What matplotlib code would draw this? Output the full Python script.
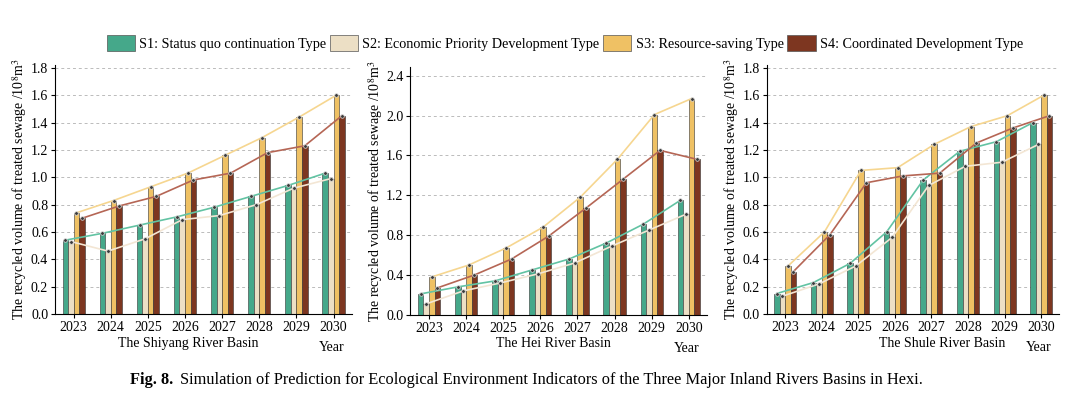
import matplotlib.pyplot as plt
import numpy as np
from matplotlib.patches import Patch

plt.rcParams['font.family'] = ['Liberation Serif', 'DejaVu Serif']
plt.rcParams['mathtext.fontset'] = 'stix'

years = ['2023', '2024', '2025', '2026', '2027', '2028', '2029', '2030']
series_names = ['S1: Status quo continuation Type',
                'S2: Economic Priority Development Type',
                'S3: Resource-saving Type',
                'S4: Coordinated Development Type']

# Shiyang River Basin
shiyang_s1 = [0.54, 0.59, 0.65, 0.71, 0.78, 0.86, 0.94, 1.03]
shiyang_s2 = [0.53, 0.46, 0.55, 0.69, 0.72, 0.80, 0.92, 0.99]
shiyang_s3 = [0.74, 0.83, 0.93, 1.03, 1.16, 1.29, 1.44, 1.60]
shiyang_s4 = [0.70, 0.79, 0.86, 0.98, 1.03, 1.18, 1.23, 1.45]

# Hei River Basin
hei_s1 = [0.21, 0.28, 0.34, 0.45, 0.56, 0.72, 0.91, 1.15]
hei_s2 = [0.11, 0.24, 0.32, 0.41, 0.52, 0.69, 0.85, 1.01]
hei_s3 = [0.38, 0.50, 0.67, 0.88, 1.18, 1.56, 2.01, 2.17]
hei_s4 = [0.27, 0.40, 0.56, 0.79, 1.07, 1.36, 1.65, 1.56]

# Shule River Basin
shule_s1 = [0.15, 0.23, 0.37, 0.60, 0.98, 1.19, 1.26, 1.40]
shule_s2 = [0.13, 0.22, 0.35, 0.56, 0.94, 1.08, 1.11, 1.24]
shule_s3 = [0.35, 0.60, 1.05, 1.07, 1.24, 1.37, 1.45, 1.60]
shule_s4 = [0.31, 0.58, 0.96, 1.01, 1.03, 1.25, 1.36, 1.45]

bar_colors = ['#45a88a', '#ecdfc5', '#efc164', '#7d3620']
line_colors = ['#62c3a3', '#f3e6d4', '#f6d690', '#b56655']

panels = [
    ('The Shiyang River Basin', [shiyang_s1, shiyang_s2, shiyang_s3, shiyang_s4],
     [0.051, 0.209, 0.275, 0.627], 1.82, np.arange(0, 1.81, 0.2), 0.45),
    ('The Hei River Basin', [hei_s1, hei_s2, hei_s3, hei_s4],
     [0.380, 0.207, 0.275, 0.625], 2.49, np.arange(0, 2.41, 0.4), 0.48),
    ('The Shule River Basin', [shule_s1, shule_s2, shule_s3, shule_s4],
     [0.710, 0.209, 0.271, 0.627], 1.82, np.arange(0, 1.81, 0.2), 0.60),
]

fig = plt.figure(figsize=(10.8, 3.97), dpi=100)

x = np.arange(len(years))
width = 0.15
offsets = [-1.5 * width, -0.5 * width, 0.5 * width, 1.5 * width]

for basin, data, rect, ytop, yticks, lab_x in panels:
    ax = fig.add_axes(rect)
    for i, vals in enumerate(data):
        ax.bar(x + offsets[i], vals, width, color=bar_colors[i],
               edgecolor='#333333', linewidth=0.4, zorder=2)
    for i, vals in enumerate(data):
        ax.plot(x + offsets[i], vals, color=line_colors[i], lw=1.2, zorder=3)
        ax.plot(x + offsets[i], vals, 'o', ms=2.6, mfc='#3a3a3a', mec='#dddddd',
                mew=0.5, zorder=4)

    ax.set_xlim(-0.5, 7.5)
    ax.set_ylim(0, ytop)
    ax.set_yticks(yticks)
    ax.set_yticklabels(['%.1f' % v for v in yticks])
    ax.set_xticks(x)
    ax.set_xticklabels(years)
    ax.tick_params(axis='both', labelsize=10, length=3, width=0.8, pad=2)
    ax.spines['top'].set_visible(False)
    ax.spines['right'].set_visible(False)
    ax.yaxis.grid(True, linestyle=(0, (3, 3)), color='#bbbbbb', lw=0.7, zorder=0)
    ax.set_axisbelow(True)
    ax.set_ylabel('The recycled volume of treated sewage /10$^8$m$^3$', fontsize=10,
                  labelpad=1)
    ax.annotate(basin, xy=(lab_x, 0), xycoords='axes fraction',
                xytext=(0, -21), textcoords='offset points',
                ha='center', va='center', fontsize=10)
    ax.annotate('Year', xy=(0.93, 0), xycoords='axes fraction',
                xytext=(0, -24), textcoords='offset points',
                ha='center', va='center', fontsize=10)

handles = [Patch(facecolor=c, edgecolor='#555555', linewidth=0.5) for c in bar_colors]
fig.legend(handles, series_names, loc='center', bbox_to_anchor=(0.523, 0.892),
           ncol=4, frameon=False, fontsize=10.2, handlelength=2.0, handleheight=1.3,
           handletextpad=0.3, columnspacing=0.25)

t = fig.text(0.12, 0.043, 'Fig. 8.', fontsize=11.8, fontweight='bold', va='center')
fig.texts.append(plt.Annotation(
    'Simulation of Prediction for Ecological Environment Indicators of the Three Major Inland Rivers Basins in Hexi.',
    xy=(1, 0.5), xycoords=t, xytext=(5, 0), textcoords='offset points',
    va='center', fontsize=11.8))
fig.texts[-1].set_figure(fig)

fig.savefig('out.png', dpi=100)
